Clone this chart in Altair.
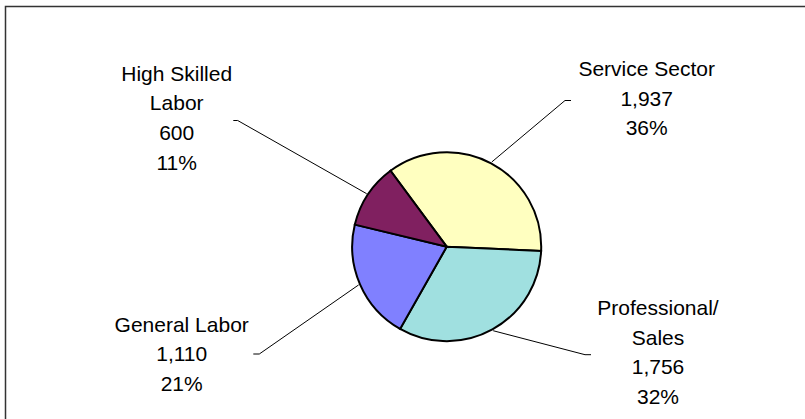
import math
import altair as alt
import pandas as pd

# ---- data ----
categories = ["Service Sector", "Professional/Sales", "General Labor", "High Skilled Labor"]
label_names = ["Service Sector", "Professional/\nSales", "General Labor", "High Skilled\nLabor"]
values = [1937, 1756, 1110, 600]
pct_labels = ["36%", "32%", "21%", "11%"]
colors = ["#FFFFC0", "#A0E0E0", "#8080FF", "#802060"]

# ---- layout ----
W, H = 805, 419
CX, CY, R = 446.7, 246.7, 94.5
R_EDGE = 96.0
START = math.radians(-36.5)
# first-line baseline of each label block
label_xy = [(646.7, 76.0), (658.0, 315.0), (181.7, 331.7), (176.7, 80.7)]
elbow_xy = [(565.0, 100.5), (585.0, 354.7), (259.3, 354.0), (237.7, 120.5)]
tick_xy = [(571.0, 100.5), (591.0, 354.7), (253.3, 354.0), (233.3, 120.5)]

total = sum(values)
pie_df = pd.DataFrame({
    "category": categories,
    "value": values,
    "order": list(range(len(values))),
})

# leader lines: start on the pie edge at each slice's mid-angle
rows = []
cum = 0
for i, (c, v) in enumerate(zip(categories, values)):
    mid = START + 2 * math.pi * (cum + v / 2) / total
    cum += v
    ex = CX + R_EDGE * math.sin(mid)
    ey = CY - R_EDGE * math.cos(mid)
    pts = [(ex, ey), elbow_xy[i], tick_xy[i]]
    for s, (px, py) in enumerate(pts):
        rows.append({"category": c, "seq": s, "x": px, "y": py})
lead_df = pd.DataFrame(rows)

text_df = pd.DataFrame({
    "category": categories,
    "text": [f"{n}\n{v:,}\n{p}" for n, v, p in zip(label_names, values, pct_labels)],
    "x": [p[0] for p in label_xy],
    "y": [p[1] for p in label_xy],
})

xs = alt.Scale(domain=[0, W], nice=False, zero=False)
ys = alt.Scale(domain=[0, H], nice=False, zero=False, reverse=True)

frame = alt.Chart(pd.DataFrame({"a": [0]})).mark_rect(
    fill="transparent", stroke="#333333", strokeWidth=1.5
).encode(x=alt.value(5.5), x2=alt.value(W + 50), y=alt.value(6.5), y2=alt.value(H + 50))

pie = alt.Chart(pie_df).mark_arc(outerRadius=R, stroke="black", strokeWidth=2).encode(
    theta=alt.Theta("value:Q", stack=True,
                    scale=alt.Scale(range=[START + 2 * math.pi, START + 4 * math.pi])),
    order=alt.Order("order:Q"),
    color=alt.Color("category:N", scale=alt.Scale(domain=categories, range=colors), legend=None),
    x=alt.value(CX),
    y=alt.value(CY),
)

leaders = alt.Chart(lead_df).mark_line(color="black", strokeWidth=1).encode(
    x=alt.X("x:Q", scale=xs, axis=None),
    y=alt.Y("y:Q", scale=ys, axis=None),
    detail="category:N",
    order="seq:Q",
)

labels = alt.Chart(text_df).mark_text(
    lineBreak="\n", lineHeight=29.7, fontSize=21, font="Liberation Sans",
    align="center", baseline="alphabetic", color="black"
).encode(
    x=alt.X("x:Q", scale=xs, axis=None),
    y=alt.Y("y:Q", scale=ys, axis=None),
    text="text:N",
)

chart = alt.layer(frame, pie, leaders, labels).properties(
    width=W, height=H, padding=0, autosize=alt.AutoSizeParams(type="none"),
    background="white",
).configure_view(stroke=None)

chart.save("out.html", embed_options={"renderer": "svg", "actions": False})
